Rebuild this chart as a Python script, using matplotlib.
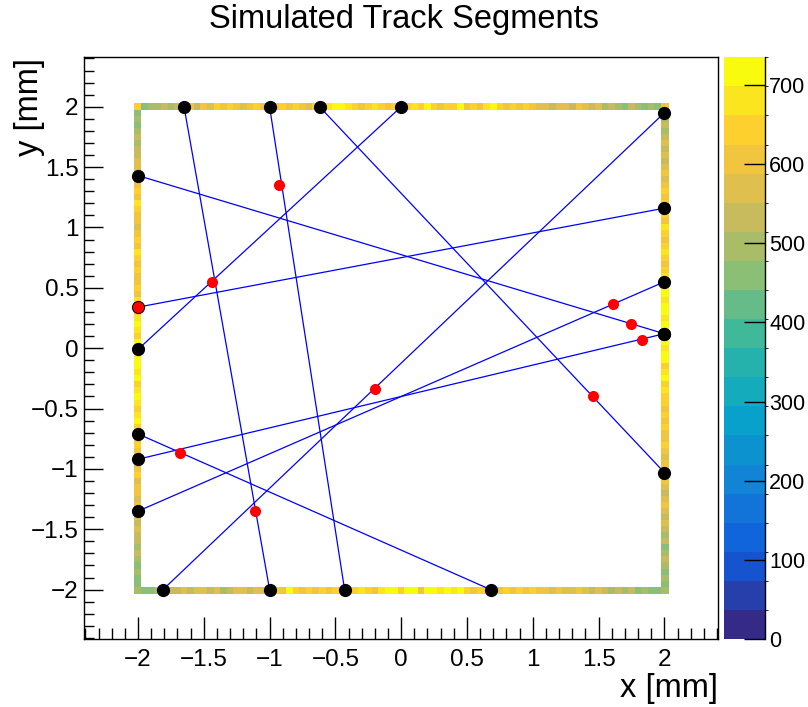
import numpy as np
import matplotlib
matplotlib.use("Agg")
import matplotlib.pyplot as plt
from matplotlib.colors import LinearSegmentedColormap, BoundaryNorm
from matplotlib.ticker import MultipleLocator

plt.rcParams['font.family'] = ['Liberation Sans', 'DejaVu Sans']

# ────────────────────────────────────────
#   Track segments (end points on the boundary, mm)
# ────────────────────────────────────────
track_x0 = [-1.65, -1.00, -0.62, 0.00, -2.00, -2.00, 2.00, -2.00, -2.00, -2.00]
track_y0 = [2.00, 2.00, 2.00, 2.00, 1.43, 0.34, 1.95, -0.71, -0.92, -1.35]
track_x1 = [-1.00, -0.43, 2.00, -2.00, 2.00, 2.00, -1.81, 0.68, 2.00, 2.00]
track_y1 = [-2.00, -2.00, -1.03, -0.01, 0.12, 1.16, -2.00, -2.00, 0.12, 0.55]

# one hit per track
hit_x = [-0.93, -1.11, 1.46, -1.44, 1.75, -2.00, -0.20, -1.68, 1.83, 1.61]
hit_y = [1.35, -1.35, -0.40, 0.55, 0.20, 0.34, -0.335, -0.87, 0.07, 0.37]

# ────────────────────────────────────────
#   Boundary occupancy histogram
# ────────────────────────────────────────
# top / bottom rows: x = -2 ... 2 (81 bins)
top_counts = [645, 450, 490, 490, 530, 490, 530, 570, 610, 530, 610, 570, 645,
              610, 645, 610, 570, 610, 645, 610, 610,
              610, 645, 610, 645, 610, 570, 645,
              715, 680, 715, 715, 680,
              645, 610, 645, 680, 645, 610, 645, 645,
              645, 680, 645, 715, 645,
              610, 645, 645, 715, 610,
              645, 610, 680, 715, 645,
              610, 645, 610, 645, 610, 570,
              570, 530, 570, 570, 530, 610, 570, 530, 570,
              490, 530, 490, 450, 530, 490, 450, 490, 450,
              610]
bottom_counts = [490, 450, 450, 490, 490,
                 530, 530, 570, 530, 570, 570, 530, 570,
                 490, 530, 570, 570, 530, 570, 570,
                 610,
                 645, 610, 715, 645, 610, 645, 610, 645, 610, 645,
                 645, 610, 645, 680, 645, 610, 680, 715, 715, 645,
                 715, 715,
                 610, 715, 715, 680, 715, 680, 715,
                 645, 610, 645, 645,
                 645, 610, 645, 610, 645, 610, 645, 610,
                 610, 570, 610, 570, 570, 610, 570, 530, 570,
                 530, 490, 530, 490, 530,
                 450, 490, 450, 450,
                 490]
# left / right columns, listed from y = 1.95 down to y = -1.95 (79 bins)
left_counts = [450, 490, 450, 490, 530, 490, 530, 530, 570,
               570, 570, 610,
               610, 645, 610, 680, 645, 610, 610, 570, 610, 645,
               610, 680, 645, 610, 645, 610, 610, 645, 610, 680,
               645, 645,
               680, 715, 680, 645, 715, 715, 680, 715, 715, 680,
               715, 645, 680, 715, 680, 645, 680, 715, 645,
               645, 610, 645, 610, 645, 610, 610, 645, 570, 610,
               610, 570, 610, 610, 570, 530,
               570, 530, 530, 490, 530, 490, 450, 490, 450, 450]
right_counts = [450, 490, 530, 490, 530, 570, 530, 570, 530,
                570, 610, 570, 610, 645, 610, 645,
                610,
                645, 610, 680, 645, 610, 645, 680, 645, 610, 645, 680,
                680,
                715, 715, 680, 715, 715, 680, 715, 715,
                680,
                715, 680, 715, 715, 645, 680, 715, 645, 680, 645,
                645, 610, 645, 610, 645, 610, 610, 645, 610, 570, 610,
                610,
                570, 610, 570, 530, 570, 610, 570, 530, 570,
                530, 490, 530, 450, 490, 530, 490, 450, 490, 450]

z_max = 735
n_levels = 20

# ROOT kBird palette
stops = [0.0, 0.125, 0.25, 0.375, 0.5, 0.625, 0.75, 0.875, 1.0]
red = [0.2082, 0.0592, 0.0780, 0.0232, 0.1802, 0.5301, 0.8186, 0.9956, 0.9764]
green = [0.1664, 0.3599, 0.5041, 0.6419, 0.7178, 0.7492, 0.7328, 0.7862, 0.9832]
blue = [0.5293, 0.8684, 0.8385, 0.7914, 0.6425, 0.4662, 0.3499, 0.1968, 0.0539]
bird = LinearSegmentedColormap.from_list(
    "bird", list(zip(stops, zip(red, green, blue))), N=256)

# bin edges: border bins centred on +-2, slightly thicker
inner = np.arange(-1.975, 1.976, 0.05)
edges = np.concatenate([[-2.033], inner, [2.033]])
n = len(edges) - 1
z = np.full((n, n), np.nan)
z[n - 1, :] = top_counts
z[0, :] = bottom_counts
z[1:n - 1, 0] = left_counts[::-1]
z[1:n - 1, n - 1] = right_counts[::-1]
z = np.ma.masked_invalid(z)

fig = plt.figure(figsize=(8.08, 7.07), dpi=100)
ax = fig.add_axes([0.104, 0.096, 0.785, 0.823])
cax = fig.add_axes([0.896, 0.096, 0.051, 0.823])

norm = BoundaryNorm(np.linspace(0, z_max, n_levels + 1), ncolors=256)
mesh = ax.pcolormesh(edges, edges, z, cmap=bird, norm=norm, zorder=1)

for x0, y0, x1, y1 in zip(track_x0, track_y0, track_x1, track_y1):
    ax.plot([x0, x1], [y0, y1], color='blue', lw=0.9, zorder=2)

ends_x = track_x0 + track_x1
ends_y = track_y0 + track_y1
ax.plot(ends_x, ends_y, 'o', color='black', ms=9.5, mec='none', zorder=3)
ax.plot(hit_x, hit_y, 'o', color='red', ms=8, mec='none', zorder=4)

ax.set_xlim(-2.41, 2.41)
ax.set_ylim(-2.41, 2.41)
ax.xaxis.set_major_locator(MultipleLocator(0.5))
ax.xaxis.set_minor_locator(MultipleLocator(0.1))
ax.yaxis.set_major_locator(MultipleLocator(0.5))
ax.yaxis.set_minor_locator(MultipleLocator(0.1))
ax.tick_params(axis='x', which='major', direction='in', length=16, width=1,
               labelsize=17.5, pad=7, top=False)
ax.tick_params(axis='x', which='minor', direction='in', length=8, width=1, top=False)
ax.tick_params(axis='y', which='major', direction='in', length=14, width=1,
               labelsize=17.5, pad=4, right=False)
ax.tick_params(axis='y', which='minor', direction='in', length=7, width=1, right=False)
ax.xaxis.set_major_formatter(plt.FuncFormatter(lambda v, p: f"{v:g}".replace('-', '\u2212')))
ax.yaxis.set_major_formatter(plt.FuncFormatter(lambda v, p: f"{v:g}".replace('-', '\u2212')))
for s in ax.spines.values():
    s.set_linewidth(1)

cbar = fig.colorbar(mesh, cax=cax, ticks=range(0, 701, 100))
cbar.outline.set_visible(False)
cax.tick_params(direction='in', length=15, width=1, labelsize=15.5, pad=3)
cax.plot([1, 1], [0, 1], transform=cax.transAxes, color='black', lw=1, clip_on=False)

fig.text(0.5, 0.972, "Simulated Track Segments", ha='center', va='center', fontsize=23.5)
fig.text(0.889, 0.026, "x [mm]", ha='right', va='center', fontsize=23.5)
fig.text(0.036, 1 - 58 / 707, "y [mm]", ha='center', va='top', rotation=90, fontsize=23.5)

fig.savefig("out.png", dpi=100)
